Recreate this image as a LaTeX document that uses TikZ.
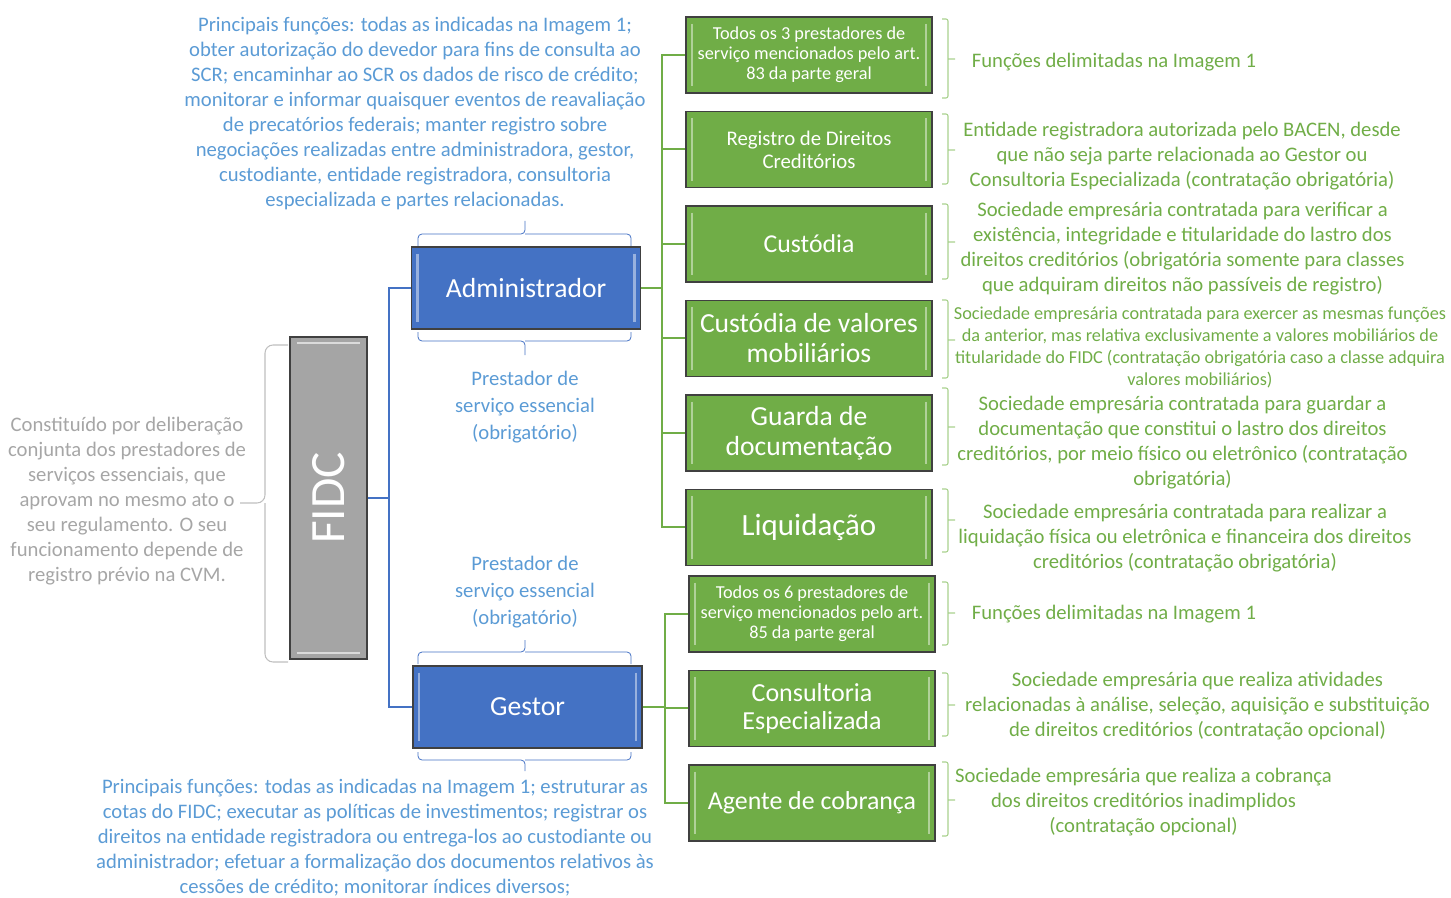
\documentclass[tikz,border=0pt]{standalone}
\usepackage{fontspec}
\setmainfont{Carlito}
\usepackage{xcolor}
\usetikzlibrary{positioning}

\definecolor{boxblue}{HTML}{4472C4}
\definecolor{txtblue}{HTML}{5B9BD5}
\definecolor{boxgreen}{HTML}{70AD47}
\definecolor{txtgreen}{HTML}{70AD47}
\definecolor{brkgreen}{HTML}{A9D18E}
\definecolor{boxgray}{HTML}{A5A5A5}
\definecolor{txtgray}{HTML}{A6A6A6}

\begin{document}
\begin{tikzpicture}[x=0.75pt,y=-0.75pt,thin]

                \tikzset{every node/.style={align=center, inner sep=0pt},
                         box/.style={draw=black!75, line width=1.1pt, text=white},
                         bevelx/.style={path picture={
                           \draw[white, opacity=.45, line width=2pt]
                             ([xshift=4.5pt,yshift=-5pt]path picture bounding box.north west) --
                             ([xshift=4.5pt,yshift=5pt]path picture bounding box.south west)
                             ([xshift=-4.5pt,yshift=-5pt]path picture bounding box.north east) --
                             ([xshift=-4.5pt,yshift=5pt]path picture bounding box.south east);}},
                         bevely/.style={path picture={
                           \draw[white, opacity=.6, line width=2pt]
                             ([xshift=5pt,yshift=-4.5pt]path picture bounding box.north west) --
                             ([xshift=-5pt,yshift=-4.5pt]path picture bounding box.north east)
                             ([xshift=5pt,yshift=4.5pt]path picture bounding box.south west) --
                             ([xshift=-5pt,yshift=4.5pt]path picture bounding box.south east);}},
                         fidcbox/.style={box, bevely, fill=boxgray, minimum width=57.75pt, minimum height=241.5pt,
                           font=\fontsize{37}{40}\selectfont},
                         bluebox/.style={box, bevelx, fill=boxblue, minimum width=171.75pt, minimum height=61.5pt,
                           font=\fontsize{20.7}{24}\selectfont},
                         greenbox/.style={box, bevelx, fill=boxgreen, minimum width=184.5pt, minimum height=57pt},
                         bluetxt/.style={text=txtblue, font=\fontsize{15.5}{18.75}\selectfont},
                         greentxt/.style={text=txtgreen, font=\fontsize{15.5}{18.75}\selectfont},
                         graytxt/.style={text=txtgray, font=\fontsize{15.5}{18.75}\selectfont},
                         blueline/.style={draw=boxblue, line width=1.5pt},
                         greenline/.style={draw=boxgreen, line width=1.5pt},
                         bluebrk/.style={draw=boxblue, line width=.6pt, rounded corners=3pt},
                         greenbrk/.style={draw=brkgreen, line width=.8pt, rounded corners=1.5pt},
                         graybrk/.style={draw=black!25, line width=.8pt, rounded corners=6pt}}

                \useasboundingbox (0,0) rectangle (1451,898);

                \node[fidcbox] (fidc) at (328.5,498) {\rotatebox{90}{FIDC}};
                \node[bluebox] (adm) at (526,288) {Administrador};
                \node[bluebox] (gest) at (527.5,707) {Gestor};

                \node[greenbox, font=\fontsize{13.7}{15}\selectfont] (reg1) at (809,55)
                     {Todos os 3 prestadores de\\serviço mencionados pelo art.\\83 da parte geral};
                \node[greenbox, font=\fontsize{15.6}{17.25}\selectfont] (reg2) [below=12.75pt of reg1]
                     {Registro de Direitos\\Creditórios};
                \node[greenbox, font=\fontsize{19.3}{22}\selectfont] (cust) [below=12.75pt of reg2] {Custódia};
                \node[greenbox, font=\fontsize{20.7}{22.5}\selectfont] (custv) [below=12.75pt of cust]
                     {Custódia de valores\\mobiliários};
                \node[greenbox, font=\fontsize{20.7}{22.5}\selectfont] (guarda) [below=12.75pt of custv]
                     {Guarda de\\documentação};
                \node[greenbox, font=\fontsize{23.2}{24}\selectfont] (liq) [below=12.75pt of guarda] {Liquidação};

                \node[greenbox, font=\fontsize{13.7}{15}\selectfont] (todos6) at (812,614)
                     {Todos os 6 prestadores de\\serviço mencionados pelo art.\\85 da parte geral};
                \node[greenbox, font=\fontsize{19.5}{21}\selectfont] (cons) [below=12.75pt of todos6]
                     {Consultoria\\Especializada};
                \node[greenbox, font=\fontsize{19.4}{21}\selectfont] (cobr) [below=12.75pt of cons] {Agente de cobrança};

                \coordinate (fj) at (389,498);
                \coordinate (aj) at (662,288);
                \coordinate (gj) at (665,707);

                \draw[blueline] (fidc) -- (fj);
                \draw[blueline] (fj) |- (adm);
                \draw[blueline] (fj) |- (gest);
                \draw[greenline] (adm) -- (aj);
                \draw[greenline] (aj) |- (reg1);
                \draw[greenline] (aj) |- (reg2);
                \draw[greenline] (aj) |- (cust);
                \draw[greenline] (aj) |- (custv);
                \draw[greenline] (aj) |- (guarda);
                \draw[greenline] (aj) |- (liq);
                \draw[greenline] (gest) -- (gj);
                \draw[greenline] (gj) |- (todos6);
                \draw[greenline] (gj) |- (cons);
                \draw[greenline] (gj) |- (cobr);

                \node[graytxt] (fidctxt) at (127,501) {Constituído por deliberação\\conjunta dos prestadores de\\serviços essenciais, que\\aprovam no mesmo ato o\\seu regulamento. O seu\\funcionamento depende de\\registro prévio na CVM.};
                \node[bluetxt] (admtxt) at (415,113) {Principais funções: todas as indicadas na Imagem 1;\\obter autorização do devedor para fins de consulta ao\\SCR; encaminhar ao SCR os dados de risco de crédito;\\monitorar e informar quaisquer eventos de reavaliação\\de precatórios federais; manter registro sobre\\negociações realizadas entre administradora, gestor,\\custodiante, entidade registradora, consultoria\\especializada e partes relacionadas.};
                \node[bluetxt, font=\fontsize{15.5}{20}\selectfont] (admess) at (525,407) {Prestador de\\serviço essencial\\(obrigatório)};
                \node[bluetxt, font=\fontsize{15.5}{20}\selectfont] (gestess) at (525,592) {Prestador de\\serviço essencial\\(obrigatório)};
                \node[bluetxt] (gesttxt) at (375,838) {Principais funções: todas as indicadas na Imagem 1; estruturar as\\cotas do FIDC; executar as políticas de investimentos; registrar os\\direitos na entidade registradora ou entrega-los ao custodiante ou\\administrador; efetuar a formalização dos documentos relativos às\\cessões de crédito; monitorar índices diversos;};

                \node[greentxt] (reg1txt) at (1114,62) {Funções delimitadas na Imagem 1};
                \node[greentxt] (reg2txt) at (1182,156) {Entidade registradora autorizada pelo BACEN, desde\\que não seja parte relacionada ao Gestor ou\\Consultoria Especializada (contratação obrigatória)};
                \node[greentxt] (custtxt) at (1182.5,249) {Sociedade empresária contratada para verificar a\\existência, integridade e titularidade do lastro dos\\direitos creditórios (obrigatória somente para classes\\que adquiram direitos não passíveis de registro)};
                \node[greentxt, font=\fontsize{13.7}{16.5}\selectfont] (custvtxt) at (1200,347) {Sociedade empresária contratada para exercer as mesmas funções\\da anterior, mas relativa exclusivamente a valores mobiliários de\\titularidade do FIDC (contratação obrigatória caso a classe adquira\\valores mobiliários)};
                \node[greentxt] (guardatxt) at (1182.5,443) {Sociedade empresária contratada para guardar a\\documentação que constitui o lastro dos direitos\\creditórios, por meio físico ou eletrônico (contratação\\obrigatória)};
                \node[greentxt] (liqtxt) at (1185,538) {Sociedade empresária contratada para realizar a\\liquidação física ou eletrônica e financeira dos direitos\\creditórios (contratação obrigatória)};
                \node[greentxt] (todos6txt) at (1114,614) {Funções delimitadas na Imagem 1};
                \node[greentxt] (constxt) at (1197.5,706) {Sociedade empresária que realiza atividades\\relacionadas à análise, seleção, aquisição e substituição\\de direitos creditórios (contratação opcional)};
                \node[greentxt] (cobrtxt) at (1143.5,802) {Sociedade empresária que realiza a cobrança\\dos direitos creditórios inadimplidos\\(contratação opcional)};

                \draw[graybrk] (288,345) -- (265,345) -- (265,503) -- (240,503) (265,503) -- (265,662) -- (288,662);
                \draw[bluebrk] (418,246) -- (418,234) -- (525,234) -- (525,221) (525,234) -- (631,234) -- (631,246);
                \draw[bluebrk] (418,332) -- (418,341) -- (525,341) -- (525,355) (525,341) -- (631,341) -- (631,332);
                \draw[bluebrk] (418,664) -- (418,652) -- (525,652) -- (525,640) (525,652) -- (631,652) -- (631,664);
                \draw[bluebrk] (418,752) -- (418,760) -- (525,760) -- (525,771) (525,760) -- (631,760) -- (631,752);

                \draw[greenbrk] (942,19) -- (948,19) -- (948,98) -- (942,98) (948,59) -- (955,59);
                \draw[greenbrk] (942,114) -- (948,114) -- (948,184) -- (942,184) (948,150) -- (955,150);
                \draw[greenbrk] (942,204) -- (948,204) -- (948,279) -- (942,279) (948,242) -- (955,242);
                \draw[greenbrk] (942,300) -- (948,300) -- (948,378) -- (942,378) (948,340) -- (955,340);
                \draw[greenbrk] (942,388) -- (948,388) -- (948,465) -- (942,465) (948,427) -- (955,427);
                \draw[greenbrk] (942,489) -- (948,489) -- (948,552) -- (942,552) (948,520) -- (955,520);
                \draw[greenbrk] (942,582) -- (948,582) -- (948,645) -- (942,645) (948,613) -- (955,613);
                \draw[greenbrk] (942,673) -- (948,673) -- (948,736) -- (942,736) (948,705) -- (955,705);
                \draw[greenbrk] (942,762) -- (948,762) -- (948,836) -- (942,836) (948,800) -- (955,800);
            \end{tikzpicture}
\end{document}
